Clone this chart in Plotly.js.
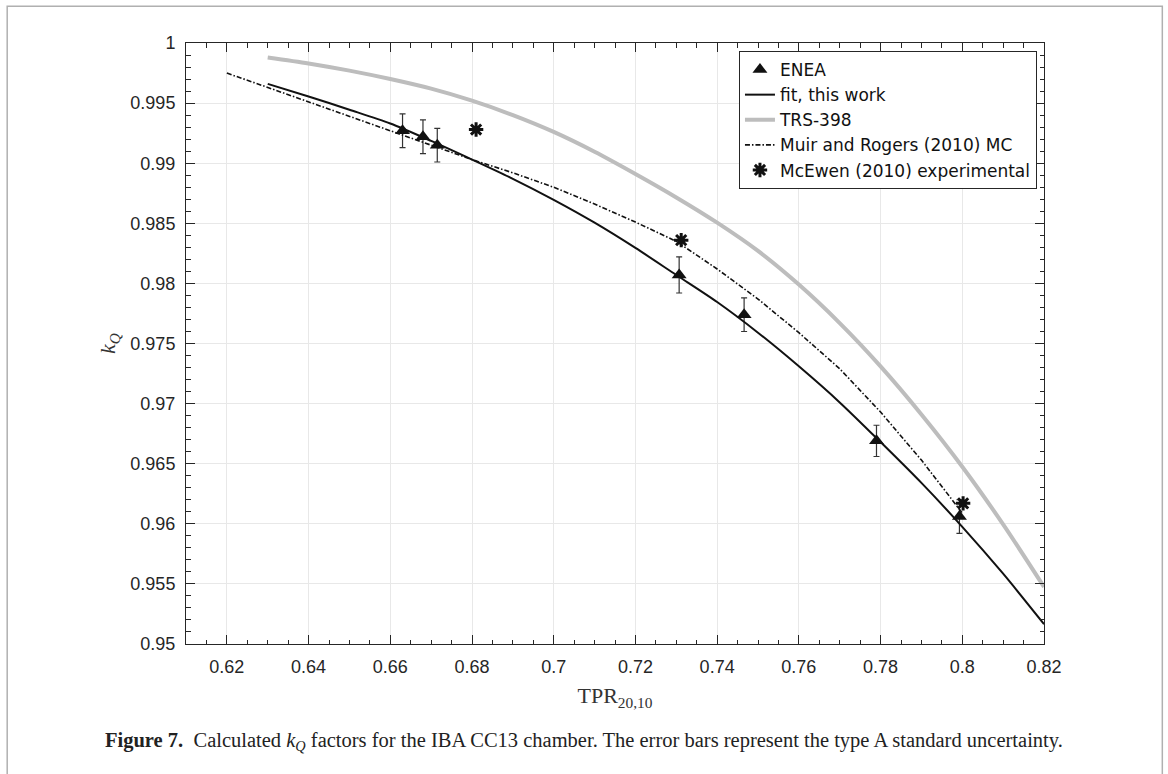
<!DOCTYPE html>
<html>
<head>
<meta charset="utf-8">
<script src="https://cdn.plot.ly/plotly-3.0.1.min.js"></script>
<style>
html,body{margin:0;padding:0;background:#fff;}
#chart{width:1168px;height:774px;}
</style>
</head>
<body>
<div id="chart"></div>
<script>
// ENEA measured kQ with type A uncertainty
const eneaX = [0.663, 0.668, 0.6715, 0.7307, 0.7466, 0.779, 0.7993];
const eneaY = [0.9927, 0.9922, 0.9915, 0.9807, 0.9774, 0.9669, 0.9606];
const eneaErr = [0.0014, 0.0014, 0.0014, 0.0015, 0.0014, 0.0013, 0.0014];

// fit, this work
const fitX = [0.63, 0.64, 0.65, 0.66, 0.67, 0.68, 0.69, 0.70, 0.71, 0.72, 0.73, 0.74, 0.75, 0.76, 0.77, 0.78, 0.79, 0.80, 0.81, 0.82];
const fitY = [0.9966, 0.99555, 0.99445, 0.9933, 0.99185, 0.9903, 0.9887, 0.98695, 0.98505, 0.98295, 0.9807, 0.97845, 0.9759, 0.9731, 0.9701, 0.9668, 0.9634, 0.95975, 0.95585, 0.95165];

// TRS-398
const trsX = [0.63, 0.64, 0.65, 0.66, 0.67, 0.68, 0.69, 0.70, 0.71, 0.72, 0.73, 0.74, 0.75, 0.76, 0.77, 0.78, 0.79, 0.80, 0.81, 0.82];
const trsY = [0.9988, 0.9983, 0.9977, 0.9970, 0.9962, 0.9952, 0.9940, 0.9926, 0.99095, 0.9891, 0.98715, 0.98505, 0.9827, 0.9799, 0.9767, 0.9731, 0.9691, 0.96475, 0.95995, 0.95475];

// Muir and Rogers (2010) MC
const muirX = [0.62, 0.63, 0.64, 0.65, 0.66, 0.67, 0.68, 0.69, 0.70, 0.71, 0.72, 0.73, 0.74, 0.75, 0.76, 0.77, 0.78, 0.79, 0.80];
const muirY = [0.9975, 0.9963, 0.9951, 0.9939, 0.9927, 0.9915, 0.9903, 0.9892, 0.9880, 0.9866, 0.9851, 0.9835, 0.9812, 0.9787, 0.9759, 0.9729, 0.9693, 0.9653, 0.9609];

// McEwen (2010) experimental
const mcewenX = [0.681, 0.7312, 0.8002];
const mcewenY = [0.9928, 0.9836, 0.9617];

// tick labels
const xTickVals = [0.62, 0.64, 0.66, 0.68, 0.70, 0.72, 0.74, 0.76, 0.78, 0.80, 0.82];
const xTickText = ['0.62', '0.64', '0.66', '0.68', '0.7', '0.72', '0.74', '0.76', '0.78', '0.8', '0.82'];
const yTickVals = [0.95, 0.955, 0.96, 0.965, 0.97, 0.975, 0.98, 0.985, 0.99, 0.995, 1];
const yTickText = ['0.95', '0.955', '0.96', '0.965', '0.97', '0.975', '0.98', '0.985', '0.99', '0.995', '1'];

const axisColor = '#262626';
const tickFont = {family: 'Liberation Sans, Arial, sans-serif', size: 18, color: axisColor};

const traces = [
  {
    x: eneaX, y: eneaY, name: 'ENEA', type: 'scatter', mode: 'markers',
    marker: {symbol: 'triangle-up', size: 13, color: '#111'},
    error_y: {type: 'data', array: eneaErr, visible: true, color: '#333', thickness: 1.2, width: 3}
  },
  {
    x: fitX, y: fitY, name: 'fit, this work', type: 'scatter', mode: 'lines',
    line: {color: '#111', width: 2, shape: 'spline', smoothing: 0.8}
  },
  {
    x: trsX, y: trsY, name: 'TRS-398', type: 'scatter', mode: 'lines',
    line: {color: '#bdbdbd', width: 4, shape: 'spline', smoothing: 0.8}
  },
  {
    x: muirX, y: muirY, name: 'Muir and Rogers (2010) MC', type: 'scatter', mode: 'lines',
    line: {color: '#111', width: 1.6, dash: '5px,2px,1.5px,2px'}
  },
  {
    x: mcewenX, y: mcewenY, name: 'McEwen (2010) experimental', type: 'scatter', mode: 'markers',
    marker: {symbol: 'asterisk-open', size: 12, color: '#111', line: {color: '#111', width: 3}}
  }
];

const layout = {
  width: 1168, height: 774,
  paper_bgcolor: '#fff', plot_bgcolor: '#fff',
  margin: {l: 186, r: 124, t: 43, b: 130, pad: 0},
  showlegend: true,
  font: {family: 'Liberation Sans, Arial, sans-serif', color: axisColor},
  xaxis: {
    range: [0.61, 0.82], tickmode: 'array', tickvals: xTickVals, ticktext: xTickText,
    ticks: 'inside', ticklen: 9, tickwidth: 1, tickcolor: axisColor,
    showline: true, linecolor: axisColor, linewidth: 1, mirror: 'ticks',
    showgrid: true, gridcolor: '#e8e8e8', gridwidth: 1, zeroline: false,
    tickfont: tickFont, ticklabelstandoff: 6,
    minor: {tickmode: 'linear', tick0: 0.61, dtick: 0.005, ticks: 'inside', ticklen: 4.5, tickcolor: axisColor, showgrid: false},
    title: {text: 'TPR<sub>20,10</sub>', font: {family: 'Liberation Serif, Times New Roman, serif', size: 22, color: '#333'}, standoff: 12}
  },
  yaxis: {
    range: [0.95, 1], tickmode: 'array', tickvals: yTickVals, ticktext: yTickText,
    ticks: 'inside', ticklen: 9, tickwidth: 1, tickcolor: axisColor,
    showline: true, linecolor: axisColor, linewidth: 1, mirror: 'ticks',
    showgrid: true, gridcolor: '#e8e8e8', gridwidth: 1, zeroline: false,
    tickfont: tickFont, ticklabelstandoff: 6,
    minor: {tickmode: 'linear', tick0: 0.95, dtick: 0.001, ticks: 'inside', ticklen: 4.5, tickcolor: axisColor, showgrid: false},
    title: {text: '<i>k</i><sub><i>Q</i></sub>', font: {family: 'Liberation Serif, Times New Roman, serif', size: 22, color: '#333'}, standoff: 8}
  },
  legend: {
    x: 0.9918, y: 0.9867, xanchor: 'right', yanchor: 'top',
    bgcolor: '#fff', bordercolor: axisColor, borderwidth: 1,
    font: {family: 'DejaVu Sans, Liberation Sans, sans-serif', size: 17, color: '#111'},
    tracegroupgap: 0, itemwidth: 30
  },
  shapes: [
    {type: 'rect', xref: 'paper', yref: 'paper', x0: -0.2084, x1: 1.1379, y0: -0.26, y1: 1.061,
     line: {color: '#b0b0b0', width: 1.5}, fillcolor: 'rgba(0,0,0,0)', layer: 'below'}
  ],
  annotations: [
    {xref: 'paper', yref: 'paper', x: 0.4639, y: -0.163, xanchor: 'center', yanchor: 'middle', showarrow: false,
     text: '<b>Figure 7.</b>  Calculated <i>k</i><sub><i>Q</i></sub> factors for the IBA CC13 chamber. The error bars represent the type A standard uncertainty.',
     font: {family: 'Liberation Serif, Times New Roman, serif', size: 20.5, color: '#222'}}
  ]
};

Plotly.newPlot('chart', traces, layout, {displayModeBar: false, staticPlot: true});
</script>
</body>
</html>
